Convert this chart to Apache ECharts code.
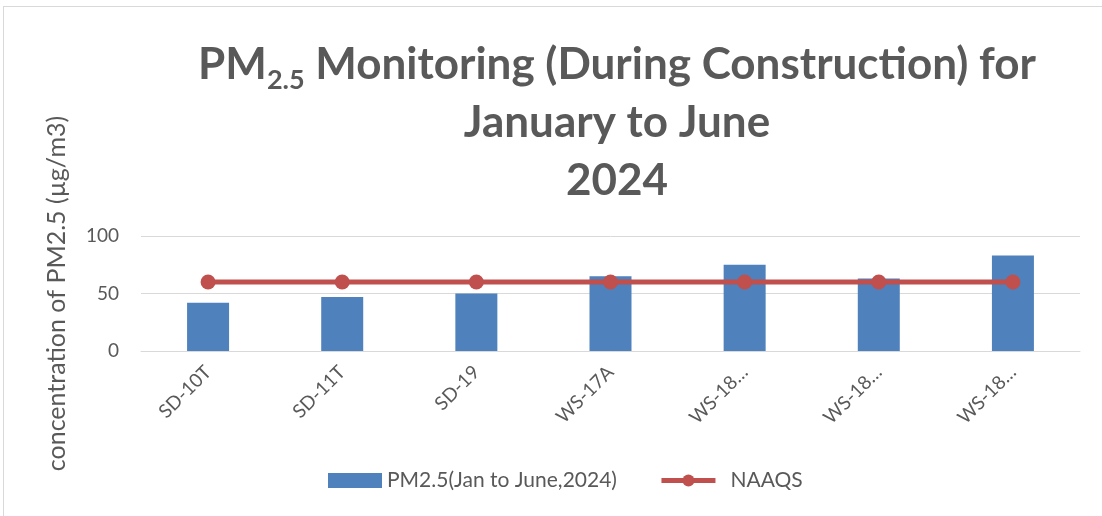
<!DOCTYPE html>
<html lang="en">
<head>
  <meta charset="UTF-8">
  <title>PM2.5 Monitoring</title>
  <script src="https://cdn.jsdelivr.net/npm/echarts@6/dist/echarts.min.js"></script>
</head>
<body style="margin:0;">
  <div id="frame" style="position:absolute;left:3px;top:6px;width:1110px;height:520px;border:1px solid #d9d9d9;"></div>
  <div id="main" style="position:absolute;left:0;top:0;width:1102px;height:516px;"></div>
  <script type="text/javascript">
    // categories (last three labels are cut off in the source chart)
    var stations = ["SD-10T", "SD-11T", "SD-19", "WS-17A", "WS-18\u2026", "WS-18\u2026 ", "WS-18\u2026  "];
    var pm25 = [42, 47, 50, 65, 75, 63, 83];
    var naaqs = [60, 60, 60, 60, 60, 60, 60];
    var yTicks = [0, 50, 100];

    var grey = "#595959";
    var font = "Lato, 'Open Sans', sans-serif";

    var myChart = echarts.init(document.getElementById('main'));
    var option = {
      animation: false,
      title: {
        text: "{a|PM}{s|2.5}{a| Monitoring (During Construction) for}\n{a|January to June}\n{a|2024}",
        left: 612,
        textAlign: "center",
        top: 31,
        textStyle: {
          rich: {
            a: { fontSize: 44, fontWeight: "bold", color: grey, fontFamily: font, lineHeight: 58 },
            s: { fontSize: 27, fontWeight: "bold", color: grey, fontFamily: font, verticalAlign: "bottom", padding: [24, 0, 0, 0], lineHeight: 58 }
          }
        }
      },
      legend: {
        bottom: 20,
        left: 323,
        itemGap: 42,
        textStyle: { color: grey, fontSize: 21, fontFamily: font },
        data: [
          { name: "PM2.5(Jan to June,2024)", icon: "rect" },
          { name: "NAAQS", textStyle: { padding: [0, 0, 0, 10] }, lineStyle: { width: 5 } }
        ],
        itemWidth: 54,
        itemHeight: 15
      },
      grid: { left: 141, right: 22, top: 236, bottom: 165 },
      xAxis: {
        type: "category",
        data: stations,
        axisLine: { lineStyle: { color: "#d9d9d9", width: 1 } },
        axisTick: { show: false },
        axisLabel: {
          rotate: 45,
          color: grey,
          fontSize: 19,
          fontFamily: font,
          margin: 18,
          interval: 0,
          formatter: function (v) { return v.trim(); }
        }
      },
      yAxis: {
        type: "value",
        min: yTicks[0],
        max: yTicks[yTicks.length - 1],
        interval: yTicks[1] - yTicks[0],
        name: "concentration of PM2.5 (\u00b5g/m3)",
        nameLocation: "middle",
        nameRotate: 90,
        nameGap: 72,
        nameTextStyle: { color: grey, fontSize: 25, fontFamily: font },
        axisLine: { show: false },
        axisTick: { show: false },
        axisLabel: { color: grey, fontSize: 19, fontFamily: font, margin: 22 },
        splitLine: { lineStyle: { color: "#d9d9d9", width: 1 } }
      },
      series: [
        {
          name: "PM2.5(Jan to June,2024)",
          type: "bar",
          data: pm25,
          barWidth: 42,
          itemStyle: { color: "#4f81bd" }
        },
        {
          name: "NAAQS",
          type: "line",
          data: naaqs,
          symbol: "circle",
          symbolSize: 15,
          lineStyle: { color: "#c0504d", width: 5 },
          itemStyle: { color: "#c0504d" }
        }
      ]
    };
    myChart.setOption(option);
  </script>
</body>
</html>
